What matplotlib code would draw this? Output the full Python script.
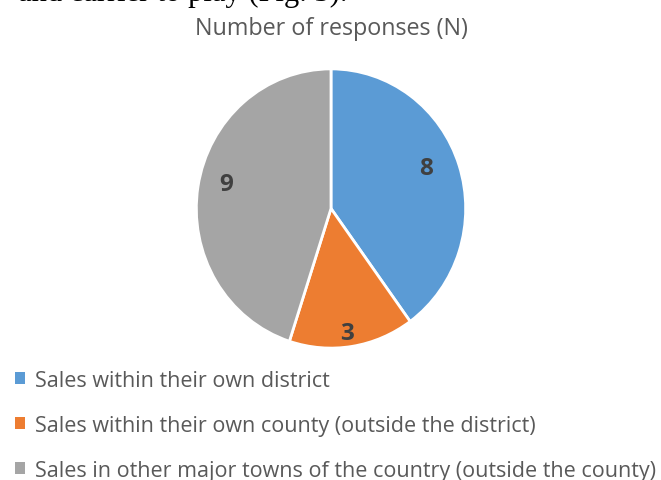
import numpy as np
import matplotlib.pyplot as plt
from matplotlib.patches import Patch

# Responses by sales area
categories = [
    "Sales within their own district",
    "Sales within their own county (outside the district)",
    "Sales in other major towns of the country (outside the county)",
]
responses = [8, 3, 9]
colors = ["#5B9BD5", "#ED7D31", "#A5A5A5"]

W, H = 661, 481
fig = plt.figure(figsize=(W / 100, H / 100), dpi=100)

# pie centred at (331, 209) px, slightly taller than wide
cx, cy, rx, ry = 331, 209.5, 136, 141
ax = fig.add_axes([(cx - rx) / W, (H - cy - ry) / H, 2 * rx / W, 2 * ry / H])
wedges, _, autotexts = ax.pie(
    responses, colors=colors, startangle=90, counterclock=False,
    radius=1, labeldistance=None,
    autopct=lambda p: f"{round(p * sum(responses) / 100):d}",
    wedgeprops=dict(edgecolor="white", linewidth=2),
)
# value labels: the narrow slice gets its label pushed further out,
# the big ones sit a little higher than the slice middle
label_dist = [0.76, 0.88, 0.77]
label_lift = [0.055, -0.02, 0.055]
for w, t, d, dy in zip(wedges, autotexts, label_dist, label_lift):
    mid = np.deg2rad((w.theta1 + w.theta2) / 2)
    t.set_position((d * np.cos(mid) - 0.02, d * np.sin(mid) + dy))
    t.set_fontsize(17.5)
    t.set_fontweight("bold")
    t.set_family("Open Sans")
    t.set_color("#404040")
ax.set_xlim(-1.01, 1.01)
ax.set_ylim(-1.01, 1.01)
ax.set_aspect("auto")
ax.axis("off")

fig.text(331 / W, 1 - 35 / H, "Number of responses (N)", ha="center", va="baseline",
         fontsize=16.8, color="#595959", family="Open Sans")

# fragment of the paragraph above the figure
fig.text(347 / W, 1 - 1 / H, "and carrier to play (Fig. 3).", ha="right",
         va="baseline", fontsize=22, family="Liberation Serif", color="black")

handles = [Patch(facecolor=c, edgecolor="none") for c in colors]
fig.legend(handles, categories, loc="upper left", bbox_to_anchor=(6 / W, 1 - 362 / H),
           frameon=False, labelcolor="#595959",
           prop=dict(family="Open Sans", size=15.5),
           handlelength=0.5, handleheight=0.5, handletextpad=0.45,
           labelspacing=1.12, borderaxespad=0)

fig.savefig("out.png", dpi=100)
